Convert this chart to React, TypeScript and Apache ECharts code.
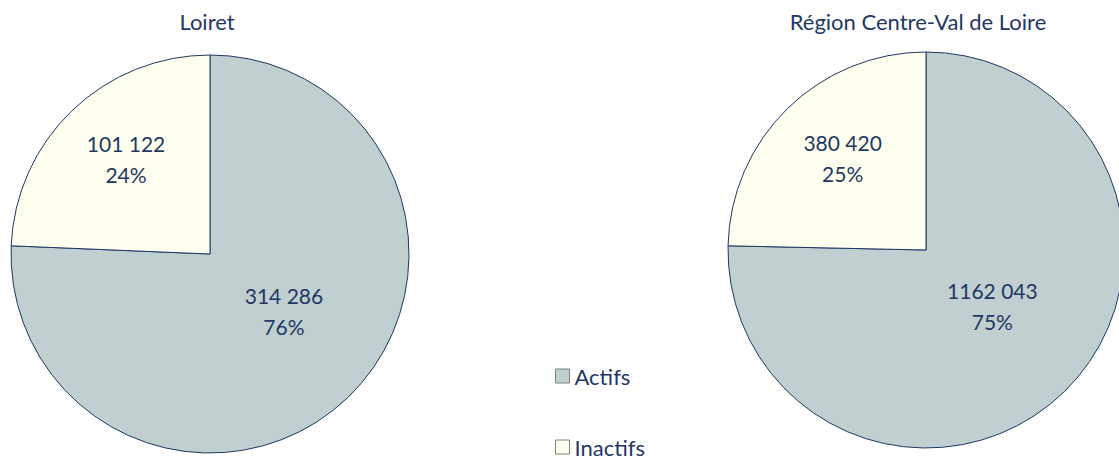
import React, { useEffect, useRef } from "react";
import * as echarts from "echarts";

const categories = ["Actifs", "Inactifs"];
const pieTitles = ["Loiret", "Région Centre-Val de Loire"];
const loiretValues = [314286, 101122];
const regionValues = [1162043, 380420];

const NAVY = "#1F3864";
const COLORS = ["#C0CFD0", "#FFFFF0"];
const FONT = "Lato, 'Open Sans', sans-serif";

// Label offsets (seriesIndex -> dataIndex -> [dx, dy])
const labelOffsets = [
  [[3, -17], [-13, -21]],
  [[-5, -17], [-12, -19]],
];

function fmt(v: number): string {
  const s = String(v);
  if (s.length <= 3) return s;
  return s.slice(0, s.length - 3) + " " + s.slice(s.length - 3);
}

function buildSeries(values: number[], center: number[], radius: number, idx: number) {
  return {
    type: "pie",
    name: pieTitles[idx],
    center,
    radius,
    startAngle: 90,
    clockwise: true,
    silent: true,
    emphasis: { disabled: true },
    itemStyle: { borderColor: NAVY, borderWidth: 1 },
    label: {
      show: true,
      position: "inside",
      color: NAVY,
      fontFamily: FONT,
      fontSize: 21,
      lineHeight: 31,
      formatter: (p: any) => `${fmt(p.value)}\n${Math.round(p.percent)}%`,
    },
    labelLine: { show: false },
    labelLayout: (p: any) => {
      const o = labelOffsets[idx][p.dataIndex];
      return { dx: o[0], dy: o[1] };
    },
    data: categories.map((c, i) => ({
      name: c,
      value: values[i],
      itemStyle: { color: COLORS[i] },
    })),
  };
}

function buildLegend(name: string, top: number) {
  return {
    orient: "vertical",
    left: 555,
    top,
    padding: 0,
    itemWidth: 14,
    itemHeight: 14,
    icon: "rect",
    selectedMode: false,
    data: [name],
    itemStyle: { borderColor: "#7F7F7F", borderWidth: 1 },
    textStyle: { color: NAVY, fontFamily: FONT, fontSize: 22, lineHeight: 22 },
  };
}

export default function App() {
  const ref = useRef<HTMLDivElement>(null);
  useEffect(() => {
    if (!ref.current) return;
    const chart = echarts.init(ref.current, null, { renderer: "svg" });
    const titleStyle = { color: NAVY, fontFamily: FONT, fontSize: 22, fontWeight: "normal" };
    chart.setOption({
      animation: false,
      backgroundColor: "#FFFFFF",
      color: COLORS,
      title: [
        { text: pieTitles[0], left: 202, top: 5, textAlign: "center", textStyle: titleStyle },
        { text: pieTitles[1], left: 913, top: 5, textAlign: "center", textStyle: titleStyle },
      ],
      legend: [buildLegend(categories[0], 365), buildLegend(categories[1], 436)],
      series: [
        buildSeries(loiretValues, [210, 254], 199, 0),
        buildSeries(regionValues, [926, 250], 198, 1),
      ],
    });
    return () => chart.dispose();
  }, []);
  return (
    <div
      ref={ref}
      style={{ position: "fixed", left: 0, top: 0, width: 1119, height: 462 }}
    />
  );
}
